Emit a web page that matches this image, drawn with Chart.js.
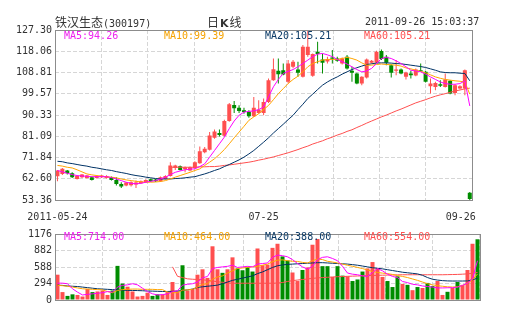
<!DOCTYPE html>
<html>
<head>
<meta charset="utf-8">
<script src="https://cdn.jsdelivr.net/npm/chart.js@4.4.1/dist/chart.umd.min.js"></script>
<style>
  body { margin: 0; background: #fff; }
  #wrap { position: relative; width: 505px; height: 330px; overflow: hidden; }
  canvas { position: absolute; left: 0; }
  #kline { top: 0; }
  #vol { top: 225px; }
  .t { position: absolute; white-space: nowrap; font: 10px "DejaVu Sans Mono", monospace; line-height: 12px; color: #333; }
  .cn { font: 12px "Noto Sans CJK SC", sans-serif; line-height: 14px; }
</style>
</head>
<body>
<div id="wrap">
  <canvas id="kline" width="505" height="225"></canvas>
  <canvas id="vol" width="505" height="105"></canvas>

  <div class="t" style="left:55px;top:15px;line-height:14px"><span class="cn">铁汉生态</span>(300197)</div>
  <div class="t" style="left:207px;top:15px;line-height:14px"><span class="cn">日</span><b style="font:bold 11px 'DejaVu Sans';margin:0 1px">K</b><span class="cn">线</span></div>
  <div class="t" style="left:365px;top:15px;line-height:14px">2011-09-26 15:03:37</div>

  <div class="t" style="left:64px;top:30px;color:#ee22ee">MA5:94.26</div>
  <div class="t" style="left:164px;top:30px;color:#f5a200">MA10:99.39</div>
  <div class="t" style="left:265px;top:30px;color:#0b3a66">MA20:105.21</div>
  <div class="t" style="left:364px;top:30px;color:#ff4f4f">MA60:105.21</div>

  <div class="t" style="left:64px;top:231px;color:#ee22ee">MA5:714.00</div>
  <div class="t" style="left:164px;top:231px;color:#f5a200">MA10:464.00</div>
  <div class="t" style="left:265px;top:231px;color:#0b3a66">MA20:388.00</div>
  <div class="t" style="left:364px;top:231px;color:#ff4f4f">MA60:554.00</div>
</div>

<script>
// daily k-line, 85 sessions from 2011-05-24 to 2011-09-26
const tickIdx = [0, 42, 84];
const tickText = ["2011-05-24", "07-25", "09-26"];

const openPx = [
  63.69, 64.71, 66.17, 65.00, 62.53, 63.26, 62.97, 63.26, 62.97, 63.26,
  62.97, 63.26, 62.09, 60.35, 59.62, 59.76, 60.06, 60.64, 61.08, 62.39,
  62.24, 61.51, 62.53, 63.84, 67.33, 68.06, 66.75, 66.17, 67.33, 69.37,
  74.17, 75.19, 80.43, 82.47, 81.31, 87.71, 94.70, 93.53, 92.37, 91.79,
  89.75, 91.20, 91.20, 96.01, 105.47, 109.54, 109.83, 104.74, 111.29, 110.13,
  106.92, 116.38, 107.36, 117.84, 114.49, 113.62, 115.37, 114.93, 112.75, 115.66,
  109.54, 108.38, 104.01, 106.63, 113.04, 113.04, 118.13, 115.66, 112.02, 109.54,
  110.13, 106.92, 108.38, 107.51, 109.83, 109.11, 102.85, 102.56, 103.72, 102.56,
  105.18, 99.94, 101.83, 101.83, 56.56
];
const closePx = [
  66.17, 66.90, 65.00, 63.26, 63.84, 64.42, 63.99, 62.09, 63.84, 63.99,
  63.84, 62.09, 60.35, 59.18, 60.93, 61.08, 60.93, 61.51, 62.09, 61.51,
  61.51, 63.26, 63.84, 68.35, 68.35, 66.46, 67.62, 67.62, 69.81, 74.61,
  75.63, 81.45, 83.20, 81.60, 87.71, 94.99, 93.24, 92.08, 91.64, 89.75,
  93.53, 92.66, 96.01, 105.47, 110.27, 108.09, 107.94, 112.75, 113.47, 108.67,
  120.02, 120.02, 116.82, 116.82, 113.04, 114.49, 114.78, 113.91, 114.93, 110.56,
  108.67, 104.01, 106.92, 114.49, 113.91, 117.84, 114.64, 113.04, 108.67, 110.13,
  108.38, 108.82, 107.65, 110.13, 109.25, 104.74, 104.01, 104.30, 103.00, 105.76,
  99.65, 103.28, 102.85, 109.83, 53.80
];
const highPx = [
  66.46, 67.33, 66.46, 65.44, 64.13, 64.71, 64.28, 63.55, 64.13, 64.28,
  64.13, 63.55, 63.26, 61.08, 61.22, 61.51, 61.80, 61.80, 62.39, 62.68,
  62.53, 63.55, 64.13, 69.81, 68.64, 68.35, 67.92, 67.92, 70.24, 76.65,
  76.36, 82.91, 84.07, 84.07, 88.29, 95.57, 96.44, 94.55, 93.53, 92.37,
  98.19, 96.73, 97.46, 106.20, 114.93, 114.93, 112.75, 114.20, 114.20, 113.47,
  120.75, 127.30, 117.11, 122.21, 117.11, 115.66, 118.57, 115.66, 115.37, 116.38,
  111.29, 108.67, 107.21, 114.93, 114.20, 118.28, 118.86, 116.38, 112.45, 114.20,
  110.56, 109.11, 109.54, 110.56, 112.75, 109.54, 106.20, 104.74, 105.47, 108.38,
  105.47, 103.72, 103.28, 110.13, 56.85
];
const lowPx = [
  61.51, 64.28, 64.42, 62.97, 62.24, 62.97, 62.68, 61.80, 62.68, 62.97,
  62.68, 61.80, 59.62, 58.60, 59.33, 59.18, 58.60, 60.35, 60.78, 61.22,
  61.22, 61.22, 62.24, 63.55, 66.46, 66.17, 65.44, 65.88, 67.04, 69.08,
  73.74, 74.90, 80.00, 81.01, 81.01, 87.42, 91.20, 91.20, 90.91, 89.17,
  89.46, 90.91, 90.18, 95.57, 105.18, 104.01, 107.65, 104.01, 110.71, 106.92,
  106.63, 115.66, 106.92, 112.75, 108.38, 112.75, 112.75, 113.47, 112.31, 110.13,
  104.74, 103.72, 103.28, 106.20, 112.75, 112.75, 114.20, 112.02, 106.63, 107.65,
  108.09, 105.76, 106.20, 107.21, 109.11, 104.45, 99.65, 101.10, 102.56, 102.27,
  99.35, 98.92, 101.39, 98.92, 53.36
];

const ma5 = [
  66.2, 65.6, 65.0, 64.4, 64.0, 63.8, 63.7, 63.5, 63.5, 63.5,
  63.5, 63.1, 62.5, 61.8, 61.1, 60.6, 60.4, 60.6, 61.1, 61.5,
  61.8, 62.5, 63.3, 64.4, 65.4, 66.0, 66.5, 66.8, 66.9, 67.9,
  69.1, 72.0, 74.9, 77.8, 80.7, 84.4, 87.7, 90.2, 91.6, 91.9,
  92.1, 92.7, 93.8, 98.2, 102.6, 105.8, 108.4, 109.3, 110.1, 111.3,
  112.7, 114.2, 115.7, 116.8, 117.1, 116.5, 115.7, 114.5, 113.5, 112.5,
  111.3, 110.1, 109.1, 109.5, 110.6, 112.7, 114.9, 115.4, 114.9, 113.9,
  112.7, 111.3, 109.8, 109.5, 109.1, 108.1, 106.9, 105.8, 104.7, 104.0,
  103.7, 103.7, 104.0, 105.2, 94.26
];
const ma10 = [
  68.4, 68.1, 67.6, 67.3, 66.5, 65.6, 64.7, 64.3, 64.0, 63.7,
  63.4, 63.3, 63.0, 62.5, 62.1, 61.8, 61.5, 61.2, 61.1, 61.1,
  61.2, 61.4, 61.8, 62.5, 63.3, 64.0, 64.7, 65.4, 66.2, 66.9,
  68.4, 69.8, 71.3, 73.2, 75.3, 77.8, 80.4, 82.9, 85.4, 88.0,
  89.5, 90.9, 92.7, 94.5, 97.0, 99.6, 101.8, 104.0, 105.8, 107.2,
  109.1, 111.3, 112.7, 113.5, 114.2, 114.5, 114.5, 114.5, 114.9, 115.4,
  114.9, 114.2, 113.0, 112.0, 112.0, 112.3, 112.5, 112.3, 112.2, 112.0,
  111.6, 110.8, 110.4, 109.8, 109.3, 108.7, 107.8, 106.9, 106.3, 105.8,
  105.5, 105.2, 105.0, 104.7, 99.39
];
const ma20 = [
  70.2, 70.0, 69.5, 69.2, 68.8, 68.4, 68.1, 67.6, 67.3, 66.9,
  66.5, 66.2, 65.7, 65.3, 64.9, 64.4, 64.0, 63.7, 63.3, 63.0,
  62.7, 62.5, 62.5, 62.5, 62.7, 62.8, 63.0, 63.3, 63.5, 64.1,
  64.7, 65.4, 66.2, 66.9, 67.9, 68.8, 69.8, 70.8, 72.0, 73.4,
  74.9, 76.7, 78.5, 80.4, 82.5, 84.4, 86.3, 88.3, 90.2, 92.7,
  95.0, 97.5, 99.4, 101.4, 103.3, 104.7, 105.9, 106.9, 108.1, 109.1,
  110.1, 110.9, 111.6, 112.3, 112.6, 112.9, 113.0, 113.0, 112.9, 112.7,
  112.6, 112.3, 112.0, 111.7, 111.4, 111.0, 110.4, 109.8, 109.1, 108.8,
  108.7, 108.7, 108.5, 108.4, 105.21
];
const ma60 = [
  null, null, null, null, null, null, null, null, null, null,
  null, null, null, null, null, null, null, null, null, null,
  null, null, null, 67.6, 67.6, 67.6, 67.6, 67.6, 67.6, 67.8,
  67.8, 67.9, 67.9, 68.1, 68.4, 68.6, 68.9, 69.2, 69.5, 69.8,
  70.2, 70.7, 71.1, 71.6, 72.1, 72.7, 73.3, 73.9, 74.6, 75.3,
  76.1, 76.8, 77.7, 78.4, 79.1, 80.0, 80.7, 81.6, 82.3, 83.2,
  83.9, 84.9, 85.8, 86.8, 87.7, 88.6, 89.5, 90.3, 91.2, 92.1,
  92.9, 93.8, 94.7, 95.6, 96.3, 97.0, 97.8, 98.5, 99.1, 99.6,
  100.2, 100.8, 101.2, 101.7, 102.0
];

const volume = [
  451, 141, 73, 101, 90, 62, 197, 141, 152, 169,
  90, 169, 608, 293, 237, 152, 62, 73, 130, 73,
  101, 101, 141, 321, 152, 619, 169, 197, 451, 547,
  394, 957, 547, 484, 547, 760, 563, 530, 591, 507,
  918, 620, 631, 929, 1002, 777, 704, 490, 338, 535,
  580, 985, 1087, 603, 603, 411, 603, 434, 422, 338,
  366, 507, 563, 676, 563, 411, 338, 231, 422, 287,
  270, 175, 231, 214, 304, 248, 338, 90, 146, 214,
  321, 270, 535, 1002, 1082
];
const vma5 = [
  300, 300, 290, 200, 140, 90, 100, 110, 120, 130,
  150, 140, 230, 260, 270, 290, 270, 210, 150, 110,
  90, 95, 110, 150, 165, 265, 280, 290, 320, 395,
  420, 560, 580, 590, 600, 620, 580, 590, 600, 590,
  640, 650, 660, 760, 800, 790, 770, 720, 650, 590,
  550, 600, 720, 760, 770, 740, 700, 600, 480, 460,
  450, 430, 420, 490, 560, 520, 460, 420, 400, 330,
  310, 280, 270, 250, 240, 230, 215, 215, 218, 220,
  230, 260, 300, 380, 700
];
const vma10 = [
  260, 255, 245, 230, 215, 200, 195, 190, 185, 180,
  150, 130, 170, 185, 190, 195, 195, 190, 190, 190,
  185, 185, 140, 130, 130, 175, 180, 190, 230, 280,
  290, 370, 410, 430, 480, 520, 560, 570, 580, 590,
  600, 620, 640, 680, 710, 715, 700, 690, 687, 670,
  660, 700, 730, 720, 690, 676, 660, 640, 620, 600,
  580, 560, 535, 510, 490, 479, 470, 455, 435, 420,
  400, 375, 350, 320, 290, 270, 255, 245, 235, 231,
  235, 259, 300, 360, 464
];
const vma20 = [
  265, 260, 250, 245, 240, 230, 220, 210, 200, 195,
  190, 185, 180, 175, 172, 170, 168, 165, 160, 158,
  155, 152, 152, 155, 160, 170, 180, 195, 225, 235,
  245, 255, 265, 290, 320, 350, 370, 390, 410, 430,
  470, 500, 540, 580, 610, 625, 635, 640, 645, 650,
  655, 660, 665, 665, 660, 655, 650, 645, 640, 630,
  620, 605, 590, 575, 565, 555, 540, 525, 510, 495,
  485, 475, 465, 440, 400, 370, 355, 345, 340, 338,
  338, 338, 340, 360, 388
];
const vma60 = [
  null, null, null, null, null, null, null, null, null, null,
  null, null, null, null, null, null, null, null, null, null,
  null, null, null, 591, 422, 400, 377, 370, 366, 360,
  350, 338, 325, 315, 305, 299, 299, 299, 299, 299,
  299, 299, 299, 299, 302, 312, 330, 345, 355, 365,
  375, 385, 394, 400, 405, 410, 415, 418, 422, 425,
  428, 431, 434, 437, 440, 442, 444, 446, 448, 450,
  450, 450, 450, 450, 450, 450, 450, 450, 452, 454,
  456, 460, 466, 475, 490
];

const priceTicks = [53.36, 62.60, 71.84, 81.09, 90.33, 99.57, 108.81, 118.06, 127.30];
const volTicks = [0, 294, 588, 882, 1176];

const RED = "#ff4f4f";
const GREEN = "#008c00";
const MA_COLORS = ["#ff00ff", "#ffa500", "#003366", "#ff4f4f"];
const GRID = "#d6d6d6";
const FONT = { family: "DejaVu Sans Mono", size: 10 };

const xLabels = openPx.map((_, i) => {
  const k = tickIdx.indexOf(i);
  return k >= 0 ? tickText[k] : "";
});
const candleColor = openPx.map((o, i) => closePx[i] >= o ? RED : GREEN);

function maLine(data, color) {
  return {
    type: "line", data, borderColor: color, borderWidth: 1,
    pointRadius: 0, tension: 0, order: 1
  };
}

// frame around the plot area
const boxPlugin = {
  id: "box",
  afterDraw(chart) {
    const a = chart.chartArea, ctx = chart.ctx;
    ctx.save();
    ctx.strokeStyle = "#8c8c8c";
    ctx.lineWidth = 1;
    ctx.strokeRect(Math.round(a.left) + 0.5, Math.round(a.top) + 0.5,
      Math.round(a.right - a.left), Math.round(a.bottom - a.top));
    ctx.restore();
  }
};

// 8 vertical divisions, independent of the bars
const divAxis = {
  type: "linear", position: "bottom", min: 0, max: 8,
  ticks: { display: false, stepSize: 1 },
  grid: { color: GRID, drawTicks: false },
  border: { display: false, dash: [4, 2] },
  afterFit: s => { s.height = 0; }
};

function yAxis(ticks, min, max, fmt) {
  return {
    min, max,
    afterBuildTicks: s => { s.ticks = ticks.map(v => ({ value: v })); },
    ticks: { padding: 3, color: "#333", font: FONT, callback: fmt },
    grid: { color: GRID, drawTicks: false },
    border: { display: false, dash: [4, 2] },
    afterFit: s => { s.width = 55; }
  };
}

new Chart(document.getElementById("kline"), {
  type: "bar",
  data: {
    labels: xLabels,
    datasets: [
      {
        data: lowPx.map((l, i) => [l, highPx[i]]),
        backgroundColor: candleColor, barThickness: 1,
        grouped: false, order: 3, inflateAmount: 0
      },
      {
        data: openPx.map((o, i) => [o, closePx[i]]),
        backgroundColor: candleColor, barThickness: 4,
        grouped: false, order: 2, minBarLength: 1, inflateAmount: 0
      },
      maLine(ma5, MA_COLORS[0]),
      maLine(ma10, MA_COLORS[1]),
      maLine(ma20, MA_COLORS[2]),
      maLine(ma60, MA_COLORS[3])
    ]
  },
  options: {
    responsive: false, animation: false, events: [],
    layout: { padding: { left: 0, right: 25, top: 30, bottom: 0 } },
    plugins: { legend: { display: false }, tooltip: { enabled: false } },
    scales: {
      x: {
        grid: { display: false, drawTicks: false }, border: { display: false },
        ticks: {
          autoSkip: false, maxRotation: 0, padding: 11, color: "#333", font: FONT,
          // last date sits flush with the right frame, so pad it to the left
          callback: (v, i) => i === xLabels.length - 1 ? xLabels[i] + "   " : xLabels[i]
        },
        afterFit: s => { s.height = 25; }
      },
      xg: divAxis,
      y: yAxis(priceTicks, 53.36, 127.30, v => v.toFixed(2))
    }
  },
  plugins: [boxPlugin]
});

new Chart(document.getElementById("vol"), {
  type: "bar",
  data: {
    labels: xLabels,
    datasets: [
      {
        data: volume, backgroundColor: candleColor, barThickness: 4,
        grouped: false, order: 2, inflateAmount: 0
      },
      maLine(vma5, MA_COLORS[0]),
      maLine(vma10, MA_COLORS[1]),
      maLine(vma20, MA_COLORS[2]),
      maLine(vma60, MA_COLORS[3])
    ]
  },
  options: {
    responsive: false, animation: false, events: [],
    layout: { padding: { left: 0, right: 25, top: 5, bottom: 30 } },
    plugins: { legend: { display: false }, tooltip: { enabled: false } },
    scales: {
      x: { display: false },
      xg: divAxis,
      y: yAxis(volTicks, 0, 1176, v => String(v))
    }
  },
  plugins: [boxPlugin]
});
</script>
</body>
</html>
